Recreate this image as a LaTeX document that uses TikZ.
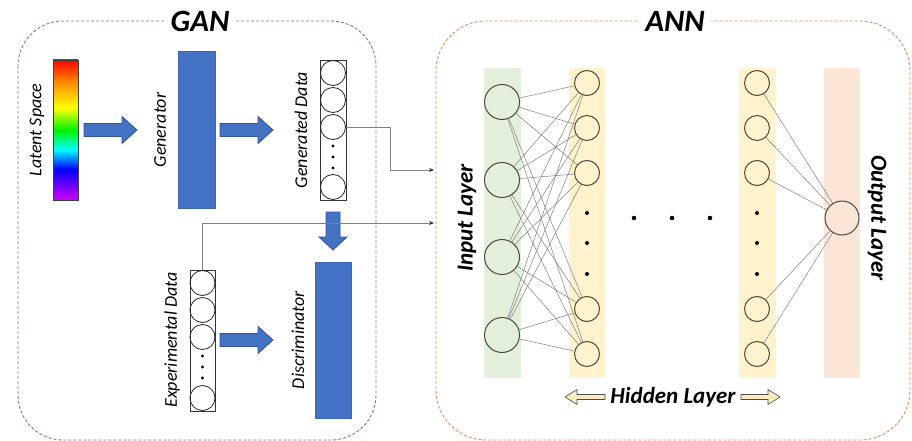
\documentclass[tikz,border=0pt]{standalone}
\usepackage{fontspec}
\setmainfont{Carlito}
\usetikzlibrary{arrows.meta}
\definecolor{ganblue}{HTML}{4472C4}
\definecolor{ganedge}{HTML}{2F5597}
\definecolor{ganframe}{HTML}{5B7FC2}
\definecolor{annframe}{HTML}{E9874F}
\definecolor{inband}{HTML}{E2EFDA}
\definecolor{hidband}{HTML}{FFF2CC}
\definecolor{outband}{HTML}{FBE5D6}
\definecolor{wiregray}{HTML}{7F7F7F}
\definecolor{ringgray}{HTML}{4A4A40}
\definecolor{hidarrow}{HTML}{FCEBBE}
% rainbow used for the latent space bar (bottom = 25bp, top = 75bp)
\pgfdeclareverticalshading{rainbowbar}{100bp}{%
  rgb(0bp)=(0.8,0,1); rgb(25bp)=(0.8,0,1); rgb(30bp)=(0.45,0,1);
  rgb(36bp)=(0,0,1); rgb(43bp)=(0,1,1); rgb(50bp)=(0,0.95,0);
  rgb(58bp)=(1,1,0); rgb(67bp)=(1,0.55,0); rgb(75bp)=(1,0,0); rgb(100bp)=(1,0,0)}
\begin{document}
\begin{tikzpicture}[x=1pt,y=-1pt,
  lbl/.style={font=\fontsize{18}{18}\selectfont\itshape, inner sep=0pt},
  boldlbl/.style={font=\fontsize{23}{23}\selectfont\bfseries\itshape, inner sep=0pt},
  titlelbl/.style={font=\fontsize{31}{31}\selectfont\bfseries\itshape, fill=white, inner xsep=6pt, inner ysep=6pt},
  gframe/.style={draw=ganframe, dash pattern=on 3pt off 2pt, line width=0.9pt, rounded corners=45pt},
  aframe/.style={draw=annframe, dash pattern=on 3pt off 2pt, line width=0.9pt, rounded corners=50pt},
  netblock/.style={rectangle, inner sep=0pt, fill=ganblue, draw=ganblue!90!black, line width=0.4pt},
  column/.style={rectangle, inner sep=0pt, draw=black!80, line width=0.8pt},
  cell/.style={circle, inner sep=0pt, minimum size=25pt, draw=black!85, line width=0.8pt},
  band/.style={rectangle, inner sep=0pt, minimum height=310pt},
  bigneuron/.style={circle, inner sep=0pt, minimum size=35pt, draw=ringgray, line width=1pt},
  neuron/.style={circle, inner sep=0pt, minimum size=25pt, draw=ringgray, line width=1pt},
  wire/.style={draw=wiregray, line width=0.5pt},
  link/.style={draw=black!50, line width=0.7pt, -{Stealth[length=5pt,width=4pt,black!80]}},
  rblock/.pic={\filldraw[fill=ganblue, draw=ganedge, line width=0.8pt]
     (0,-6.5) -- (38,-6.5) -- (38,-13.5) -- (53,0) -- (38,13.5) -- (38,6.5) -- (0,6.5) -- cycle;},
  dblock/.pic={\filldraw[fill=ganblue, draw=ganedge, line width=0.8pt]
     (-7,0) -- (-7,25) -- (-14,25) -- (0,38) -- (14,25) -- (7,25) -- (7,0) -- cycle;},
]
\useasboundingbox (0,0) rectangle (912,441);

% ---------- GAN ----------
\draw[gframe] (18,21) rectangle (376,440);
\node[titlelbl] (gantitle) at (200,21) {GAN};

\node[rectangle, inner sep=0pt, minimum width=25pt, minimum height=140pt,
      shade, shading=rainbowbar, draw=black!75, line width=0.8pt] (latent) at (65.5,130) {};
\node[lbl, rotate=90] (latentlbl) at (37,130) {Latent Space};
\pic at (84,130) {rblock};

\node[netblock, minimum width=37pt, minimum height=157pt] (gen) at (196.5,129.5) {};
\node[lbl, rotate=90] (genlbl) at (160,130) {Generator};
\pic at (220,130) {rblock};

\node[column, minimum width=26pt, minimum height=140pt] (gd) at (333,130) {};
\node[cell] (g1) at (333,73) {};
\node[cell] (g2) at (333,100) {};
\node[cell] (g3) at (333,127) {};
\node[cell] (g4) at (333,187) {};
\foreach \y in {146,157,168} \fill (333,\y) circle (1.6pt);
\node[lbl, rotate=90] (gdlbl) at (301,130) {Generated Data};
\pic at (333,212) {dblock};

\node[column, minimum width=25pt, minimum height=141pt] (ed) at (202.5,340.5) {};
\node[cell] (e1) at (202.5,283) {};
\node[cell] (e2) at (202.5,310) {};
\node[cell] (e3) at (202.5,337) {};
\node[cell] (e4) at (202.5,398) {};
\foreach \y in {356,367,378} \fill (202.5,\y) circle (1.6pt);
\node[lbl, rotate=90] (edlbl) at (172,340) {Experimental Data};
\pic at (220,340) {rblock};

\node[netblock, minimum width=36pt, minimum height=156pt] (disc) at (333,340) {};
\node[lbl, rotate=90] (disclbl) at (298,340) {Discriminator};

% ---------- ANN ----------
\draw[aframe] (436,21) rectangle (910,440);
\node[titlelbl] (anntitle) at (675,21) {ANN};

\node[band, fill=inband,  minimum width=37pt] (inb)  at (502.5,223) {};
\node[band, fill=hidband, minimum width=36pt] (hb1)  at (587,223) {};
\node[band, fill=hidband, minimum width=37pt] (hb2)  at (757.5,223) {};
\node[band, fill=outband, minimum width=36pt] (outb) at (842,223) {};

\foreach \i/\y in {1/102,2/180,3/257,4/335}
  \node[bigneuron] (i\i) at (502,\y) {};
\foreach \j/\y in {1/83,2/128,3/173,4/309,5/354} {
  \node[neuron] (h\j) at (587,\y) {};
  \node[neuron] (k\j) at (757,\y) {};
}
\node[circle, inner sep=0pt, minimum size=34pt, draw=ringgray, line width=1pt] (o) at (842,218) {};

\foreach \i in {1,...,4}
  \foreach \j in {1,...,5}
    \draw[wire] (i\i) -- (h\j);
\foreach \j in {1,...,5}
  \draw[wire] (k\j) -- (o);

\foreach \y in {213,243,274} {
  \fill (587,\y) circle (2pt);
  \fill (757,\y) circle (2pt);
}
\foreach \x in {634,672,710} \fill (\x,218) circle (2.3pt);

\node[boldlbl, rotate=90]  (inlbl)  at (467,218) {Input Layer};
\node[boldlbl, rotate=-90] (outlbl) at (877,218) {Output Layer};
\node[boldlbl] (hidlbl) at (673,397) {Hidden Layer};
\filldraw[fill=hidarrow, draw=black!70, line width=0.6pt]
  (565,397) -- (577,389.5) -- (577,394.5) -- (605,394.5) -- (605,399.5) -- (577,399.5) -- (577,404.5) -- cycle;
\filldraw[fill=hidarrow, draw=black!70, line width=0.6pt]
  (780,397) -- (768,389.5) -- (768,394.5) -- (741,394.5) -- (741,399.5) -- (768,399.5) -- (768,404.5) -- cycle;

% ---------- data feeding the ANN ----------
\coordinate (in1) at (434,170);
\coordinate (in2) at (434,223);
\draw[link] (g3.east) -- ++(44,0) |- (in1);
\draw[link] (ed.north) |- (in2);
\end{tikzpicture}
\end{document}
